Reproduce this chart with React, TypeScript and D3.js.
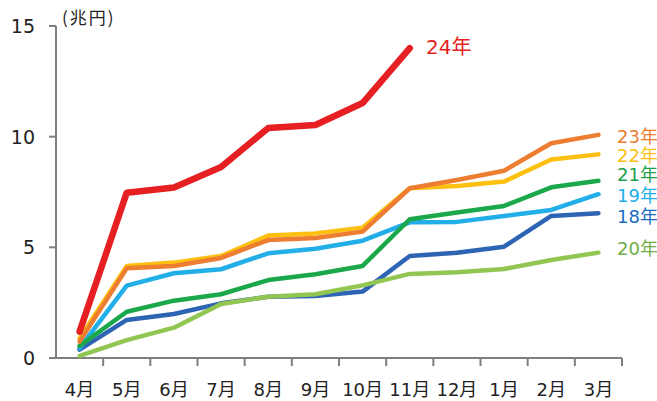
import React from "react";
import * as d3 from "d3";

const months = ["4月", "5月", "6月", "7月", "8月", "9月", "10月", "11月", "12月", "1月", "2月", "3月"];
const yTicks = [0, 5, 10, 15];

const y18 = [0.38, 1.72, 1.99, 2.47, 2.77, 2.8, 3.0, 4.61, 4.76, 5.03, 6.42, 6.54];
const y19 = [0.45, 3.27, 3.83, 4.01, 4.73, 4.94, 5.3, 6.13, 6.15, 6.42, 6.69, 7.4];
const y20 = [0.1, 0.81, 1.37, 2.44, 2.77, 2.88, 3.28, 3.8, 3.87, 4.02, 4.43, 4.76];
const y21 = [0.55, 2.09, 2.59, 2.88, 3.52, 3.78, 4.16, 6.27, 6.57, 6.87, 7.71, 8.01];
const y22 = [0.88, 4.16, 4.31, 4.61, 5.53, 5.63, 5.89, 7.67, 7.77, 7.97, 8.97, 9.2];
const y23 = [0.74, 4.05, 4.16, 4.52, 5.33, 5.42, 5.71, 7.67, 8.04, 8.46, 9.7, 10.08];
const y24 = [1.19, 7.47, 7.7, 8.63, 10.39, 10.53, 11.52, 14.0];

const seriesNames = ["18年", "19年", "20年", "21年", "22年", "23年", "24年"];
const seriesValues = [y18, y19, y20, y21, y22, y23, y24];
const lineColors = ["#2e64b4", "#22aee6", "#92c653", "#1aa84a", "#fdbf10", "#ed7d31", "#e61f22"];
const labelColors = ["#1a6cbf", "#22aee6", "#6fac46", "#1aa04a", "#fdbf10", "#ed7d31", "#e61f22"];

const W = 657;
const H = 401;
const left = 56;
const right = 622;
const top = 26;
const bottom = 358;

export default function App() {
  const x = d3.scaleBand<string>().domain(months).range([left, right]);
  const y = d3.scaleLinear().domain([0, 15]).range([bottom, top]);
  const line = d3
    .line<number>()
    .x((_, i) => (x(months[i]) as number) + x.bandwidth() / 2)
    .y((d) => y(d));

  const font = "'DejaVu Sans', Verdana, 'Noto Sans CJK JP', sans-serif";
  const labelY: Record<string, number> = {
    "23年": 137,
    "22年": 156,
    "21年": 175,
    "19年": 196,
    "18年": 217,
    "20年": 249,
  };

  return (
    <svg width={W} height={H} style={{ position: "absolute", left: 0, top: 0, fontFamily: font }}>
      <g stroke="#7f7f7f" strokeWidth={2} fill="none">
        <line x1={left} y1={top} x2={left} y2={bottom} />
        <line x1={left} y1={bottom} x2={right} y2={bottom} />
        {yTicks.map((t) => (
          <line key={t} x1={left - 7} x2={left} y1={y(t)} y2={y(t)} />
        ))}
        {months.map((m) => (
          <line key={m} x1={(x(m) as number) + x.bandwidth()} x2={(x(m) as number) + x.bandwidth()} y1={bottom} y2={bottom + 8} />
        ))}
      </g>
      {yTicks.map((t) => (
        <text key={t} x={35} y={y(t)} dy="0.36em" textAnchor="end" fontSize={19} fill="#222">
          {t}
        </text>
      ))}
      {months.map((m) => (
        <text key={m} x={(x(m) as number) + x.bandwidth() / 2} y={390} dy="0.36em" textAnchor="middle" fontSize={18} fill="#222">
          {m}
        </text>
      ))}
      <text x={62} y={24} fontSize={17} letterSpacing={2} fill="#222" fontFamily="'Noto Sans CJK JP', sans-serif">(兆円)</text>

      {seriesValues.map((vals, si) => (
        <path
          key={seriesNames[si]}
          d={line(vals) as string}
          fill="none"
          stroke={lineColors[si]}
          strokeWidth={si === 6 ? 6.5 : 4.5}
          strokeLinejoin="round"
          strokeLinecap="round"
        />
      ))}

      {seriesNames.slice(0, 6).map((n, si) => (
        <text key={n} x={617} y={labelY[n]} dy="0.36em" fontSize={18} fill={labelColors[si]}>
          {n}
        </text>
      ))}
      <text x={426} y={47} dy="0.36em" fontSize={20} fill={labelColors[6]}>24年</text>
    </svg>
  );
}
